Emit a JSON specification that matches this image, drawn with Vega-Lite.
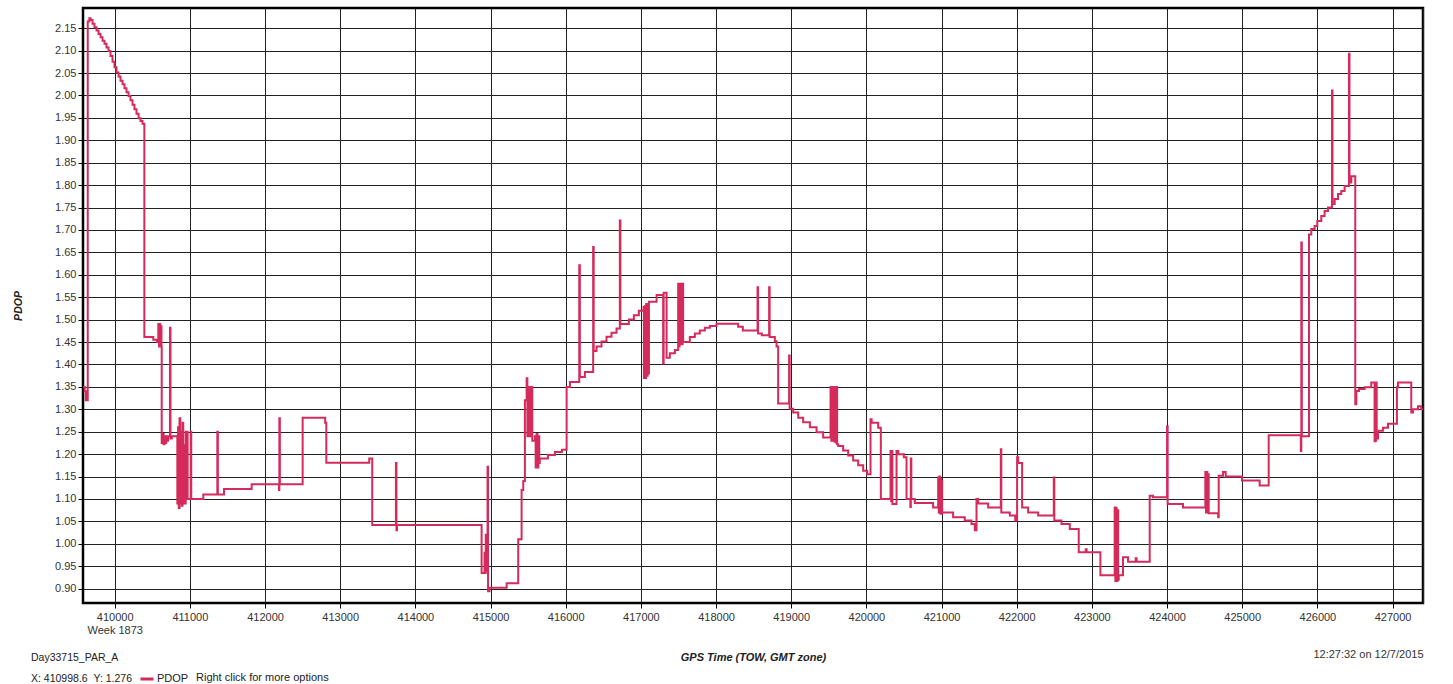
{
  "$schema": "https://vega.github.io/schema/vega-lite/v6.json",
  "width": 1340,
  "height": 595,
  "autosize": {"type": "none"},
  "padding": {"left": 83, "top": 8, "right": 30, "bottom": 81},
  "background": "white",
  "config": {
    "view": {"stroke": "#000", "strokeWidth": 2.5},
    "font": "Liberation Sans"
  },
  "title": {
    "text": "Day33715_PAR_A",
    "subtitle": "X: 410998.6\u00a0\u00a0Y: 1.276",
    "orient": "bottom",
    "anchor": "start",
    "frame": "group",
    "dx": -52,
    "offset": -32,
    "fontSize": 10.5,
    "fontWeight": "normal",
    "color": "#222",
    "subtitleFontSize": 10.5,
    "subtitleColor": "#222",
    "subtitlePadding": 10
  },
  "data": {"values": [
    {"t":409580,"v":1.35},{"t":409600,"v":1.34},{"t":409615,"v":1.32},{"t":409641,"v":2.165},{"t":409662,"v":2.172},{"t":409678,"v":2.168},{"t":409705,"v":2.16},{"t":409731,"v":2.152},{"t":409758,"v":2.145},{"t":409785,"v":2.137},{"t":409811,"v":2.13},{"t":409838,"v":2.122},{"t":409864,"v":2.115},{"t":409891,"v":2.107},{"t":409918,"v":2.099},{"t":409944,"v":2.088},{"t":409971,"v":2.075},{"t":409997,"v":2.063},{"t":410024,"v":2.051},{"t":410051,"v":2.042},{"t":410077,"v":2.033},{"t":410104,"v":2.025},{"t":410130,"v":2.016},{"t":410157,"v":2.007},{"t":410184,"v":1.999},{"t":410210,"v":1.989},{"t":410237,"v":1.979},{"t":410263,"v":1.969},{"t":410290,"v":1.959},{"t":410317,"v":1.949},{"t":410343,"v":1.943},{"t":410370,"v":1.937},
    {"t":410394,"v":1.461},{"t":410513,"v":1.455},{"t":410563,"v":1.45},{"t":410580,"v":1.49},{"t":410590,"v":1.44},{"t":410598,"v":1.49},{"t":410606,"v":1.45},{"t":410614,"v":1.485},{"t":410622,"v":1.44},
    {"t":410625,"v":1.225},{"t":410640,"v":1.245},{"t":410650,"v":1.222},{"t":410662,"v":1.24},{"t":410672,"v":1.225},{"t":410685,"v":1.24},{"t":410695,"v":1.23},{"t":410710,"v":1.24},{"t":410735,"v":1.482},{"t":410742,"v":1.235},{"t":410760,"v":1.24},
    {"t":410833,"v":1.09},{"t":410843,"v":1.26},{"t":410852,"v":1.08},{"t":410862,"v":1.28},{"t":410872,"v":1.09},{"t":410882,"v":1.25},{"t":410892,"v":1.085},{"t":410902,"v":1.27},{"t":410912,"v":1.09},{"t":410922,"v":1.22},{"t":410932,"v":1.09},{"t":410945,"v":1.25},{"t":410955,"v":1.1},{"t":410962,"v":1.25},{"t":410970,"v":1.1},
    {"t":411011,"v":1.25},{"t":411018,"v":1.1},{"t":411178,"v":1.11},{"t":411365,"v":1.25},{"t":411372,"v":1.11},{"t":411454,"v":1.122},{"t":411822,"v":1.133},{"t":412185,"v":1.12},{"t":412190,"v":1.28},{"t":412197,"v":1.133},{"t":412500,"v":1.281},{"t":412800,"v":1.27},{"t":412815,"v":1.181},{"t":413386,"v":1.19},{"t":413426,"v":1.042},
    {"t":413741,"v":1.18},{"t":413748,"v":1.03},{"t":413755,"v":1.042},
    {"t":414881,"v":0.935},{"t":414920,"v":0.98},{"t":414928,"v":0.935},{"t":414936,"v":1.02},{"t":414944,"v":0.94},{"t":414960,"v":1.172},{"t":414967,"v":0.894},{"t":414986,"v":0.902},{"t":415214,"v":0.912},{"t":415368,"v":1.01},{"t":415413,"v":1.12},{"t":415435,"v":1.14},
    {"t":415457,"v":1.32},{"t":415480,"v":1.369},{"t":415490,"v":1.24},{"t":415510,"v":1.35},{"t":415525,"v":1.24},{"t":415545,"v":1.35},{"t":415555,"v":1.23},
    {"t":415589,"v":1.24},{"t":415600,"v":1.17},{"t":415612,"v":1.245},{"t":415624,"v":1.17},{"t":415636,"v":1.24},{"t":415648,"v":1.18},{"t":415655,"v":1.19},{"t":415763,"v":1.198},{"t":415856,"v":1.205},{"t":415949,"v":1.21},
    {"t":416012,"v":1.35},{"t":416056,"v":1.361},{"t":416180,"v":1.621},{"t":416188,"v":1.372},{"t":416255,"v":1.383},{"t":416365,"v":1.662},{"t":416372,"v":1.43},{"t":416410,"v":1.44},{"t":416476,"v":1.451},{"t":416543,"v":1.462},{"t":416609,"v":1.471},{"t":416676,"v":1.48},{"t":416720,"v":1.721},{"t":416727,"v":1.49},{"t":416840,"v":1.5},{"t":416907,"v":1.51},{"t":416973,"v":1.52},{"t":417036,"v":1.528},
    {"t":417040,"v":1.37},{"t":417050,"v":1.53},{"t":417060,"v":1.37},{"t":417070,"v":1.535},{"t":417080,"v":1.375},{"t":417090,"v":1.53},{"t":417100,"v":1.38},{"t":417107,"v":1.54},{"t":417209,"v":1.555},{"t":417296,"v":1.402},{"t":417303,"v":1.56},{"t":417342,"v":1.415},{"t":417385,"v":1.425},{"t":417452,"v":1.432},
    {"t":417496,"v":1.58},{"t":417505,"v":1.44},{"t":417515,"v":1.58},{"t":417525,"v":1.445},{"t":417535,"v":1.58},{"t":417545,"v":1.445},{"t":417555,"v":1.58},{"t":417562,"v":1.45},{"t":417651,"v":1.461},{"t":417718,"v":1.469},{"t":417784,"v":1.476},{"t":417851,"v":1.482},{"t":417917,"v":1.486},{"t":418006,"v":1.491},{"t":418294,"v":1.484},{"t":418356,"v":1.476},{"t":418552,"v":1.572},{"t":418559,"v":1.469},{"t":418609,"v":1.465},{"t":418706,"v":1.572},{"t":418713,"v":1.461},{"t":418782,"v":1.452},{"t":418805,"v":1.44},{"t":418826,"v":1.313},{"t":418972,"v":1.42},{"t":418979,"v":1.301},
    {"t":419026,"v":1.293},{"t":419093,"v":1.281},{"t":419159,"v":1.271},{"t":419248,"v":1.26},{"t":419337,"v":1.249},{"t":419425,"v":1.237},
    {"t":419523,"v":1.35},{"t":419533,"v":1.23},{"t":419543,"v":1.35},{"t":419553,"v":1.23},{"t":419563,"v":1.35},{"t":419573,"v":1.228},{"t":419583,"v":1.35},{"t":419593,"v":1.226},{"t":419603,"v":1.35},{"t":419611,"v":1.222},{"t":419625,"v":1.218},{"t":419691,"v":1.208},{"t":419758,"v":1.197},{"t":419824,"v":1.186},{"t":419891,"v":1.175},{"t":419957,"v":1.163},{"t":420010,"v":1.155},
    {"t":420055,"v":1.278},{"t":420070,"v":1.27},{"t":420157,"v":1.259},{"t":420192,"v":1.1},{"t":420321,"v":1.207},{"t":420330,"v":1.095},{"t":420338,"v":1.207},{"t":420346,"v":1.089},{"t":420401,"v":1.207},{"t":420425,"v":1.2},{"t":420498,"v":1.193},{"t":420534,"v":1.1},{"t":420585,"v":1.082},{"t":420591,"v":1.19},{"t":420598,"v":1.1},{"t":420644,"v":1.091},{"t":420888,"v":1.081},
    {"t":420955,"v":1.148},{"t":420963,"v":1.07},{"t":420971,"v":1.15},{"t":420979,"v":1.068},{"t":420987,"v":1.145},{"t":420995,"v":1.067},{"t":421003,"v":1.14},{"t":421008,"v":1.07},{"t":421154,"v":1.059},{"t":421309,"v":1.052},{"t":421398,"v":1.044},{"t":421442,"v":1.03},{"t":421465,"v":1.1},{"t":421487,"v":1.09},{"t":421620,"v":1.081},{"t":421788,"v":1.211},{"t":421795,"v":1.07},{"t":421908,"v":1.063},{"t":421980,"v":1.052},{"t":422005,"v":1.193},{"t":422020,"v":1.18},{"t":422072,"v":1.081},{"t":422152,"v":1.07},{"t":422285,"v":1.063},{"t":422493,"v":1.148},{"t":422500,"v":1.052},{"t":422595,"v":1.044},{"t":422706,"v":1.033},
    {"t":422825,"v":0.981},{"t":422918,"v":0.988},{"t":422930,"v":0.981},{"t":423113,"v":0.93},{"t":423303,"v":1.081},{"t":423312,"v":0.917},{"t":423321,"v":1.08},{"t":423330,"v":0.917},{"t":423340,"v":1.075},{"t":423350,"v":0.92},{"t":423357,"v":0.93},{"t":423414,"v":0.97},{"t":423481,"v":0.96},{"t":423583,"v":0.968},{"t":423595,"v":0.96},{"t":423769,"v":1.107},{"t":423813,"v":1.104},{"t":424000,"v":1.262},{"t":424008,"v":1.089},{"t":424212,"v":1.081},
    {"t":424509,"v":1.16},{"t":424518,"v":1.07},{"t":424527,"v":1.16},{"t":424536,"v":1.07},{"t":424545,"v":1.155},{"t":424554,"v":1.068},{"t":424680,"v":1.059},{"t":424687,"v":1.152},{"t":424744,"v":1.16},{"t":424780,"v":1.15},{"t":424997,"v":1.141},{"t":425232,"v":1.13},{"t":425352,"v":1.242},
    {"t":425780,"v":1.207},{"t":425786,"v":1.672},{"t":425793,"v":1.24},{"t":425888,"v":1.69},{"t":425919,"v":1.702},{"t":425963,"v":1.709},{"t":425999,"v":1.72},{"t":426052,"v":1.731},{"t":426096,"v":1.742},{"t":426141,"v":1.75},{"t":426194,"v":2.011},{"t":426201,"v":1.758},{"t":426230,"v":1.769},{"t":426274,"v":1.78},{"t":426318,"v":1.787},{"t":426362,"v":1.798},{"t":426420,"v":2.093},{"t":426427,"v":1.806},{"t":426451,"v":1.82},{"t":426504,"v":1.311},{"t":426518,"v":1.341},{"t":426553,"v":1.345},{"t":426628,"v":1.349},{"t":426717,"v":1.36},
    {"t":426761,"v":1.229},{"t":426768,"v":1.36},{"t":426775,"v":1.23},{"t":426782,"v":1.36},{"t":426789,"v":1.235},{"t":426806,"v":1.252},{"t":426872,"v":1.259},{"t":426939,"v":1.268},{"t":427058,"v":1.349},{"t":427072,"v":1.36},{"t":427249,"v":1.293},{"t":427271,"v":1.3},{"t":427338,"v":1.307},{"t":427382,"v":1.3},{"t":427405,"v":1.3}
  ]},
  "mark": {"type": "line", "interpolate": "step-after", "strokeWidth": 2, "clip": true},
  "encoding": {
    "x": {
      "field": "t", "type": "quantitative",
      "scale": {"domain": [409578, 427405], "nice": false, "zero": false},
      "axis": {
        "values": [410000,411000,412000,413000,414000,415000,416000,417000,418000,419000,420000,421000,422000,423000,424000,425000,426000,427000,427405],
        "format": "d",
        "grid": true, "gridColor": "#222", "gridWidth": 1,
        "domain": false,
        "ticks": true, "tickColor": "#000", "tickWidth": 1,
        "tickSize": {"condition": {"test": "datum.value == 427405", "value": 0}, "value": 5},
        "labelFontSize": 11, "labelColor": "#333",
        "labelPadding": {"condition": {"test": "datum.value == 427405", "value": 45}, "value": 3},
        "labelAlign": {"condition": {"test": "datum.value == 427405", "value": "right"}, "value": "center"},
        "labelOverlap": false, "labelFlush": false, "labelBaseline": "top", "labelLineHeight": 13,
        "labelExpr": "datum.value == 410000 ? ['410000', 'Week 1873'] : datum.value == 427405 ? '12:27:32 on 12/7/2015' : datum.label",
        "title": "GPS Time (TOW, GMT zone)",
        "titleFontSize": 11, "titleFontWeight": "bold", "titleFontStyle": "italic", "titleColor": "#222",
        "titleY": 54, "titleBaseline": "middle"
      }
    },
    "y": {
      "field": "v", "type": "quantitative",
      "scale": {"domain": [0.868, 2.195], "nice": false, "zero": false},
      "axis": {
        "values": [0.9,0.95,1.0,1.05,1.1,1.15,1.2,1.25,1.3,1.35,1.4,1.45,1.5,1.55,1.6,1.65,1.7,1.75,1.8,1.85,1.9,1.95,2.0,2.05,2.1,2.15],
        "format": ".2f",
        "grid": true, "gridColor": "#222", "gridWidth": 1,
        "domain": false,
        "ticks": true, "tickSize": 5, "tickColor": "#000", "tickWidth": 1,
        "labelFontSize": 11, "labelColor": "#333", "labelPadding": 2,
        "title": "PDOP",
        "titleFontSize": 10.5, "titleFontWeight": "bold", "titleFontStyle": "italic", "titleColor": "#222",
        "titlePadding": 31
      }
    },
    "color": {
      "datum": "PDOP",
      "scale": {"range": ["#d42a5c"]},
      "legend": {
        "orient": "none", "legendX": 56, "legendY": 663,
        "title": "Right click for more options", "titleOrient": "right",
        "titleFontWeight": "normal", "titleFontSize": 11, "titleColor": "#222", "titlePadding": 8,
        "labelFontSize": 11, "labelColor": "#222", "labelOffset": 2,
        "symbolType": "stroke", "symbolStrokeWidth": 3, "symbolSize": 169,
        "direction": "horizontal", "padding": 0
      }
    }
  }
}
